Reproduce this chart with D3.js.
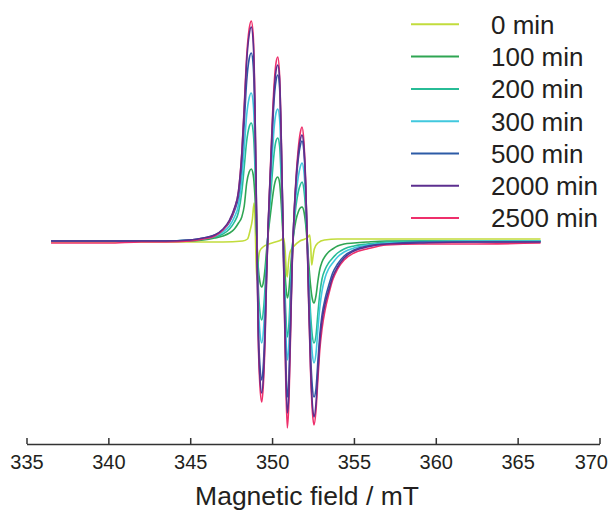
<!DOCTYPE html>
<html>
<head>
<meta charset="utf-8">
<script src="https://cdn.jsdelivr.net/npm/d3@7"></script>
<style>
  body { margin: 0; background: #fff; }
  text { font-family: "Liberation Sans", Arial, sans-serif; fill: #231f20; }
</style>
</head>
<body>
<div id="chart"></div>
<script>
var svgWidth = 608;
var svgHeight = 510;

// legend / series labels
var seriesNames = ["0 min", "100 min", "200 min", "300 min", "500 min", "2000 min", "2500 min"];
var seriesColors = ["#c2dc3c", "#2fa553", "#27bc96", "#41c8de", "#2c5ba6", "#5c2f8f", "#ee2f6b"];
var xTicks = [335, 340, 345, 350, 355, 360, 365, 370];

// field (mT) for the 0 min spectrum
var field0 = [336.5, 340, 344, 347, 348.2, 348.5, 348.65, 348.8, 348.9, 348.97, 349.02, 349.08, 349.15,
  349.25, 349.45, 349.8, 350.2, 350.55, 350.72, 350.8, 350.87, 350.93, 351.0, 351.12, 351.35, 351.7,
  352.0, 352.2, 352.3, 352.36, 352.42, 352.48, 352.58, 352.8, 353.2, 354, 356, 360, 366.4];
var min0 = [-1, -1, -1, -1, 0, 2, 10, 22, 38, 15, -20, -39, -22,
  -10, -6, -3, -1, 1, 3, -10, -30, -36, -22, -10, -5, 0,
  2, 4, 6, -5, -24, -18, -8, -2, 1, 2, 2, 2, 2];

// common field (mT) for the later spectra
var field = [336.5, 338, 340, 342, 343.5, 345, 345.8, 346.5, 347.0, 347.4, 347.7, 347.95, 348.15, 348.3,
  348.45, 348.6, 348.73, 348.85, 348.95, 349.02, 349.08, 349.16, 349.26, 349.37, 349.48, 349.58, 349.66,
  349.76, 349.88, 350.0, 350.12, 350.24, 350.35, 350.46, 350.56, 350.65, 350.74, 350.83, 350.93, 351.03,
  351.12, 351.22, 351.34, 351.46, 351.6, 351.72, 351.83, 351.94, 352.05, 352.14, 352.24, 352.35, 352.46,
  352.56, 352.68, 352.8, 352.92, 353.05, 353.25, 353.45, 353.7, 354.0, 354.4, 355.0, 355.8, 357, 359, 362, 366.4];

var min100 = [0, 0, 0, 0, 0, 0, 1, 3, 5, 8, 12, 18, 24, 35,
  58, 69, 72, 66, 46, 22, -2, -27, -41, -46, -40, -26, -10,
  7, 24, 40, 54, 62, 64, 58, 37, 10, -18, -42, -57, -49,
  -30, -8, 9, 21, 29, 33, 34, 30, 17, 0, -22, -44, -58,
  -62, -55, -40, -28, -21, -15, -11, -8, -5, -3, -2, -1, 0, 0, 0, 0];

var min200 = [0, 0, 0, 0, 0, 1, 2, 4, 7, 12, 19, 29, 49, 74,
  100, 114, 118, 109, 76, 37, -4, -46, -71, -79, -68, -44, -18,
  10, 38, 64, 87, 100, 103, 95, 60, 17, -30, -69, -96, -83,
  -51, -14, 15, 35, 49, 56, 59, 52, 31, 2, -35, -72, -95,
  -102, -95, -72, -52, -38, -28, -22, -17, -12, -8, -5, -3, -1, 0, 0, 0];

var min300 = [0, 0, 0, 0, 0, 1, 2, 5, 9, 15, 24, 36, 62, 93,
  126, 143, 148, 137, 96, 47, -5, -60, -92, -102, -88, -58, -25,
  12, 48, 82, 112, 128, 132, 122, 78, 22, -38, -86, -119, -103,
  -64, -18, 19, 45, 64, 74, 78, 70, 43, 5, -42, -86, -113,
  -122, -113, -88, -66, -50, -36, -28, -22, -16, -11, -7, -4, -2, -1, 0, 0];

var min500 = [0, 0, 0, 0, 0, 1, 3, 6, 11, 19, 30, 45, 78, 118,
  160, 182, 188, 175, 122, 60, -10, -85, -125, -139, -120, -80, -34,
  14, 60, 103, 140, 160, 166, 153, 98, 28, -48, -112, -156, -136,
  -85, -24, 24, 57, 82, 95, 100, 90, 55, 6, -56, -112, -146,
  -156, -148, -120, -93, -74, -57, -45, -32, -23, -15, -9, -5, -3, -1, -1, -1];

var min2000 = [0, 0, 0, 0, 0, 1, 3, 6, 12, 21, 33, 50, 87, 132,
  180, 206, 214, 198, 138, 68, -12, -95, -137, -152, -132, -88, -38,
  15, 63, 110, 148, 170, 176, 162, 102, 30, -52, -125, -172, -150,
  -93, -27, 25, 60, 87, 101, 106, 95, 58, 5, -62, -125, -163,
  -176, -163, -130, -100, -80, -62, -50, -36, -26, -17, -10, -6, -3, -2, -1, -1];

var min2500 = [-2, -2, -2, -1, -1, 0, 2, 5, 11, 20, 32, 50, 88, 135,
  185, 212, 220, 205, 140, 60, -10, -100, -145, -161, -140, -95, -40,
  15, 65, 115, 155, 178, 184, 165, 105, 30, -55, -135, -187, -160,
  -100, -30, 25, 62, 92, 108, 114, 100, 60, 5, -65, -130, -170,
  -184, -170, -138, -108, -88, -68, -54, -39, -28, -19, -12, -8, -4, -3, -3, -2];

var seriesValues = [min0, min100, min200, min300, min500, min2000, min2500];

var axisY = 444;

var svg = d3.select("#chart")
  .append("svg")
  .attr("width", svgWidth)
  .attr("height", svgHeight);

var xScale = d3.scaleLinear()
  .domain([335, 370])
  .range([26.5, 599.5]);

// intensity in arbitrary units, baseline at 0
var yScale = d3.scaleLinear()
  .domain([-200, 240])
  .range([441, 1]);

var line = d3.line()
  .x(d => xScale(d[0]))
  .y(d => yScale(d[1]))
  .curve(d3.curveMonotoneX);

var drawOrder = [0, 1, 2, 3, 4, 6, 5];
drawOrder.forEach(function(i) {
  var xs = i === 0 ? field0 : field;
  var pts = xs.map((b, j) => [b, seriesValues[i][j]]);
  svg.append("path")
    .datum(pts)
    .attr("d", line)
    .attr("fill", "none")
    .attr("stroke", seriesColors[i])
    .attr("stroke-width", 1.6)
    .attr("stroke-linejoin", "round");
});

// x axis with inward ticks
var bottomAxis = d3.axisBottom(xScale)
  .tickValues(xTicks)
  .tickFormat(d3.format("d"))
  .tickSizeInner(-6)
  .tickSizeOuter(0)
  .tickPadding(11);

var xAxis = svg.append("g")
  .attr("transform", `translate(0, ${axisY})`)
  .call(bottomAxis);

xAxis.select(".domain").attr("stroke", "#333").attr("stroke-width", 1.5);
xAxis.selectAll(".tick line").attr("stroke", "#333").attr("stroke-width", 1.5);
xAxis.selectAll(".tick text")
  .style("font-family", "'Liberation Sans', Arial, sans-serif")
  .style("font-size", "20px")
  .style("fill", "#231f20");

// last label kept inside the picture
xAxis.selectAll(".tick text")
  .filter(d => d === 370)
  .attr("text-anchor", "end")
  .attr("x", 8);

svg.append("text")
  .attr("x", 307)
  .attr("y", 505)
  .attr("text-anchor", "middle")
  .style("font-size", "26.5px")
  .text("Magnetic field / mT");

// legend
var legend = svg.append("g");
seriesNames.forEach(function(name, i) {
  var ly = 24.3 + i * 32.3;
  legend.append("line")
    .attr("x1", 411)
    .attr("x2", 459)
    .attr("y1", ly)
    .attr("y2", ly)
    .attr("stroke", seriesColors[i])
    .attr("stroke-width", 2);
  legend.append("text")
    .attr("x", 491)
    .attr("y", ly)
    .attr("dy", "0.36em")
    .style("font-size", "26px")
    .text(name);
});
</script>
</body>
</html>
